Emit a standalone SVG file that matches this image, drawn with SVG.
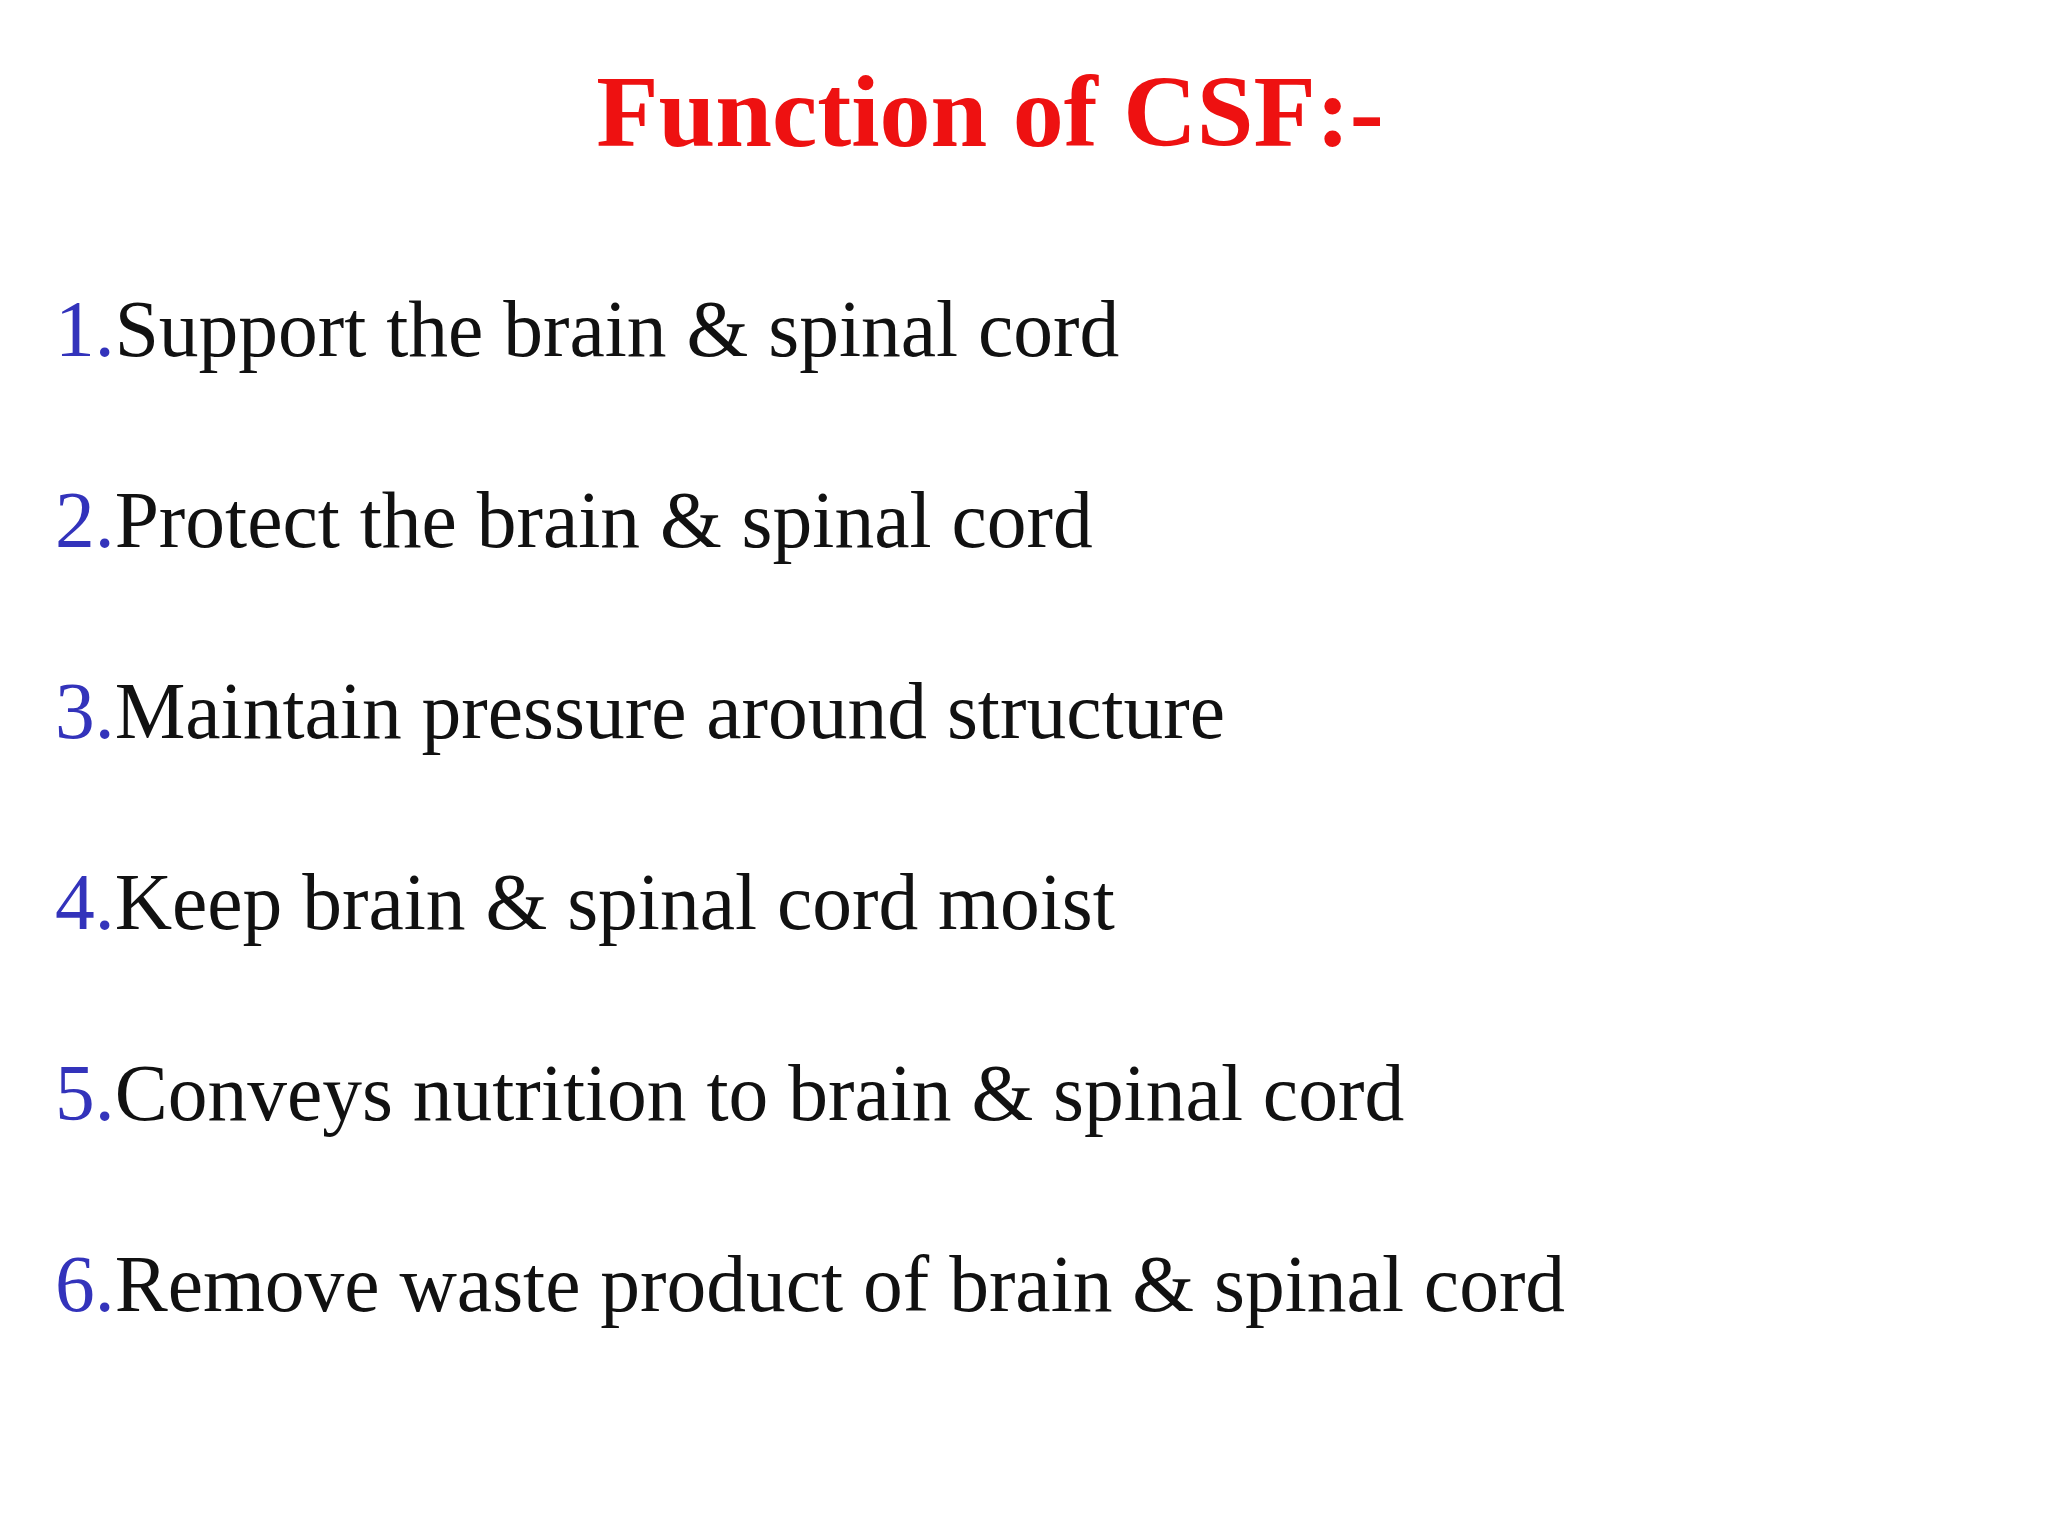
<svg xmlns="http://www.w3.org/2000/svg" width="2048" height="1536" viewBox="0 0 2048 1536">
<style>
.t{font-family:"Liberation Serif",serif;font-size:79.5px;fill:#111}
.n{fill:#3333bb}
</style>
<rect width="2048" height="1536" fill="#fff"/>
<text x="990" y="146" text-anchor="middle" font-family="Liberation Serif,serif" font-weight="bold" font-size="102" fill="#ee1111">Function of CSF:-</text>
<g id="items">
<text class="t" x="55" y="356"><tspan class="n">1.</tspan>Support the brain &amp; spinal cord</text>
<text class="t" x="55" y="547"><tspan class="n">2.</tspan>Protect the brain &amp; spinal cord</text>
<text class="t" x="55" y="738"><tspan class="n">3.</tspan>Maintain pressure around structure</text>
<text class="t" x="55" y="929"><tspan class="n">4.</tspan>Keep brain &amp; spinal cord moist</text>
<text class="t" x="55" y="1120"><tspan class="n">5.</tspan>Conveys nutrition to brain &amp; spinal cord</text>
<text class="t" x="55" y="1311"><tspan class="n">6.</tspan>Remove waste product of brain &amp; spinal cord</text>
</g>
</svg>
